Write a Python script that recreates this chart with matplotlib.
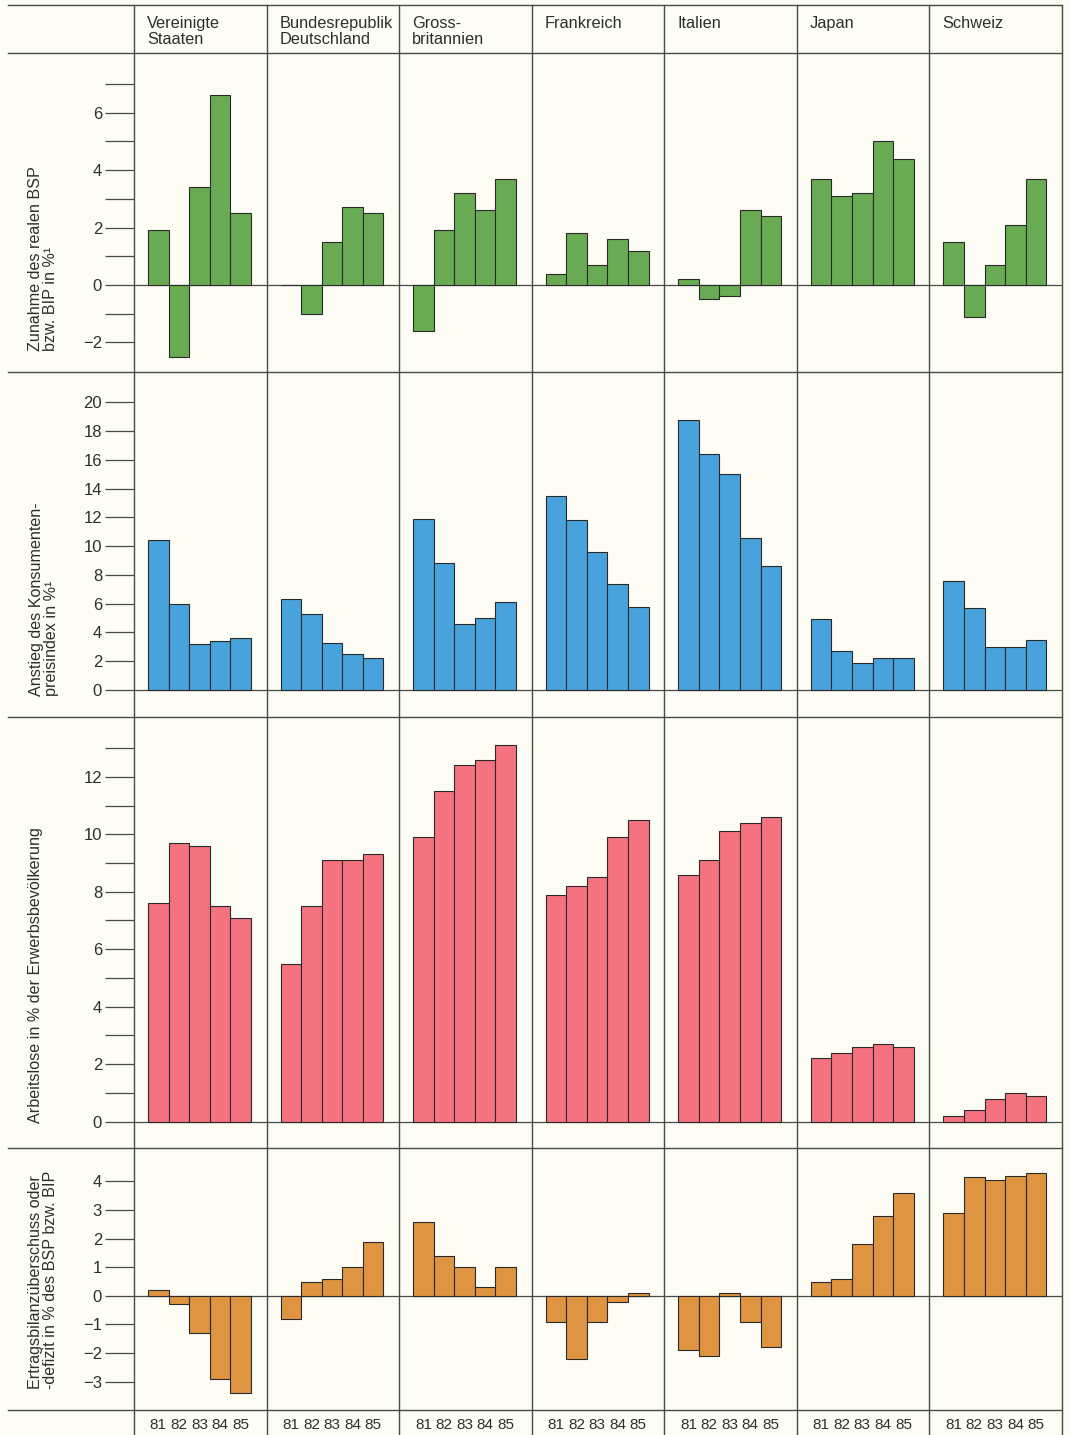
import matplotlib
matplotlib.use("Agg")
import matplotlib.pyplot as plt
import numpy as np
from matplotlib.lines import Line2D

plt.rcParams['font.family'] = ['Liberation Sans', 'DejaVu Sans']

# ---------------- data ----------------
countries = ["Vereinigte\nStaaten", "Bundesrepublik\nDeutschland", "Gross-\nbritannien",
             "Frankreich", "Italien", "Japan", "Schweiz"]
years = ["81", "82", "83", "84", "85"]

# Zunahme des realen BSP bzw. BIP in %
gdp_growth = [
    [1.9, -2.5, 3.4, 6.6, 2.5],
    [0.0, -1.0, 1.5, 2.7, 2.5],
    [-1.6, 1.9, 3.2, 2.6, 3.7],
    [0.4, 1.8, 0.7, 1.6, 1.2],
    [0.2, -0.5, -0.4, 2.6, 2.4],
    [3.7, 3.1, 3.2, 5.0, 4.4],
    [1.5, -1.1, 0.7, 2.1, 3.7],
]
# Anstieg des Konsumentenpreisindex in %
cpi_rise = [
    [10.4, 6.0, 3.2, 3.4, 3.6],
    [6.3, 5.3, 3.3, 2.5, 2.2],
    [11.9, 8.8, 4.6, 5.0, 6.1],
    [13.5, 11.8, 9.6, 7.4, 5.8],
    [18.8, 16.4, 15.0, 10.6, 8.6],
    [4.9, 2.7, 1.9, 2.2, 2.2],
    [7.6, 5.7, 3.0, 3.0, 3.5],
]
# Arbeitslose in % der Erwerbsbevoelkerung
unemployment = [
    [7.6, 9.7, 9.6, 7.5, 7.1],
    [5.5, 7.5, 9.1, 9.1, 9.3],
    [9.9, 11.5, 12.4, 12.6, 13.1],
    [7.9, 8.2, 8.5, 9.9, 10.5],
    [8.6, 9.1, 10.1, 10.4, 10.6],
    [2.2, 2.4, 2.6, 2.7, 2.6],
    [0.2, 0.4, 0.8, 1.0, 0.9],
]
# Ertragsbilanzueberschuss oder -defizit in % des BSP bzw. BIP
current_account = [
    [0.2, -0.3, -1.3, -2.9, -3.4],
    [-0.8, 0.5, 0.6, 1.0, 1.9],
    [2.6, 1.4, 1.0, 0.3, 1.0],
    [-0.9, -2.2, -0.9, -0.2, 0.1],
    [-1.9, -2.1, 0.1, -0.9, -1.8],
    [0.5, 0.6, 1.8, 2.8, 3.6],
    [2.9, 4.15, 4.05, 4.2, 4.3],
]

row_labels = [
    "Zunahme des realen BSP\nbzw. BIP in %\u00b9",
    "Anstieg des Konsumenten-\npreisindex in %\u00b9",
    "Arbeitslose in % der Erwerbsbevölkerung",
    "Ertragsbilanzüberschuss oder\n-defizit in % des BSP bzw. BIP",
]

# ---------------- layout ----------------
W, H = 1069, 1435
BG = "#fdfdf5"
LINE = "#4a4a4a"
TXT = "#2e2e2e"
fig = plt.figure(figsize=(W / 100, H / 100), dpi=100, facecolor=BG)

def fx(px):
    return px / W

def fy(py):
    return 1 - py / H

x_left, x_right = 134, 1062
rows = [
    # data, color, y_top, y_bottom, ylim, major ticks, minor ticks, label x, label bottom y
    (gdp_growth, "#68ab52", 53, 372, (-3.03, 8.08), [-2, 0, 2, 4, 6], [-1, 1, 3, 5, 7], 43, 351),
    (cpi_rise, "#48a2db", 372, 717, (-1.88, 22.11), list(range(0, 21, 2)), [], 44, 696),
    (unemployment, "#f5737f", 717, 1148, (-0.915, 14.08), list(range(0, 13, 2)), list(range(1, 14, 2)), 36, 1123),
    (current_account, "#de9440", 1148, 1410, (-3.99, 5.17), list(range(-3, 5)), [], 43, 1389),
]

ncol = len(countries)
bw = 0.155
off = 0.106
idx = np.arange(len(years))

for (data, color, yt, yb, ylim, major, minor, lx, ly), lab in zip(rows, row_labels):
    ax = fig.add_axes([fx(x_left), fy(yb), fx(x_right) - fx(x_left), (yb - yt) / H])
    ax.set_facecolor(BG)
    ax.patch.set_alpha(0)
    for c in range(ncol):
        xs = c + off + (idx + 0.5) * bw
        ax.bar(xs, data[c], width=bw, color=color, edgecolor="#2a2a2a", linewidth=0.8, zorder=3)
    ax.axhline(0, color=LINE, lw=0.9, zorder=2)
    ax.set_xlim(0, ncol)
    ax.set_ylim(*ylim)
    for s in ax.spines.values():
        s.set_visible(False)
    ax.set_xticks([])
    ax.set_yticks(major)
    ax.set_yticklabels([str(v).replace("-", "\u2212") for v in major])
    ax.set_yticks(minor, minor=True)
    ax.tick_params(axis="y", which="both", length=21, width=0.9, color=LINE,
                   labelsize=12, labelcolor=TXT, pad=2)
    fig.text(fx(lx), fy(ly), lab, rotation=90, ha="center", va="bottom",
             multialignment="left", fontsize=11.6, color=TXT, linespacing=1.0)

# grid lines of the table
for py in [5, 53, 372, 717, 1148, 1410]:
    fig.add_artist(Line2D([fx(8), fx(x_right)], [fy(py), fy(py)], color=LINE, lw=1.0))
colw = (x_right - x_left) / ncol
for c in range(ncol + 1):
    px = x_left + c * colw
    fig.add_artist(Line2D([fx(px), fx(px)], [fy(5), fy(H)], color=LINE, lw=1.0))

# headers and year labels
for c, name in enumerate(countries):
    cx = x_left + c * colw
    fig.text(fx(cx + 13), fy(16), name, ha="left", va="top", fontsize=11.8,
             color=TXT, linespacing=1.05)
    for j, yr in enumerate(years):
        bx = cx + colw * (off + (j + 0.5) * bw)
        fig.text(fx(bx), fy(1425), yr, ha="center", va="center", fontsize=11, color=TXT)

fig.savefig("out.png", dpi=100, facecolor=BG)
